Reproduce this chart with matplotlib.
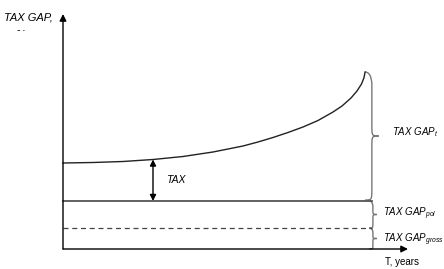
import numpy as np
import matplotlib
matplotlib.use("Agg")
import matplotlib.pyplot as plt
from matplotlib.path import Path
from matplotlib.patches import PathPatch
from matplotlib.transforms import Bbox, TransformedBbox

plt.rcParams['font.family'] = ['Liberation Sans', 'DejaVu Sans']
plt.rcParams['mathtext.fontset'] = 'custom'
plt.rcParams['mathtext.it'] = 'Liberation Sans:italic'
plt.rcParams['mathtext.rm'] = 'Liberation Sans'

# curve of total tax gap over time (years, %)
curve_t = [0, 1, 2, 3, 4, 5, 6, 6.5, 7, 7.5, 8, 8.5, 9, 9.3, 9.6, 9.8, 9.95, 10.03, 10.07]
curve_y = [8.6, 8.65, 8.75, 8.95, 9.25, 9.7, 10.3, 10.7, 11.15, 11.65, 12.2, 12.85, 13.7,
           14.3, 15.1, 15.8, 16.5, 17.1, 17.7]
gap_pol = 4.8      # level of policy gap line
gap_gross = 2.1    # level of gross gap line (dashed)
t_end = 10.3
tax_t = 3.0

labels = [r"$\mathit{TAX\ GAP}_{\mathit{t}}$",
          r"$\mathit{TAX\ GAP}_{\mathit{pol}}$",
          r"$\mathit{TAX\ GAP}_{\mathit{gross}}$"]


def brace(ax, x0, y0, y1, w, r):
    ym = (y0 + y1) / 2
    xs = x0 + w / 2
    verts = [(x0, y1), (xs, y1), (xs, y1 - r), (xs, y1 - r),
             (xs, ym + r),
             (xs, ym), (xs, ym), (x0 + w, ym),
             (xs, ym), (xs, ym), (xs, ym - r),
             (xs, y0 + r),
             (xs, y0), (xs, y0), (x0, y0)]
    codes = [Path.MOVETO, Path.CURVE4, Path.CURVE4, Path.CURVE4,
             Path.LINETO,
             Path.CURVE4, Path.CURVE4, Path.CURVE4,
             Path.CURVE4, Path.CURVE4, Path.CURVE4,
             Path.LINETO,
             Path.CURVE4, Path.CURVE4, Path.CURVE4]
    ax.add_patch(PathPatch(Path(verts, codes), fill=False, ec='#777777', lw=1.0))


fig = plt.figure(figsize=(4.44, 2.69), dpi=100)
ax = fig.add_axes([0, 0, 1, 1])
ax.set_xlim(-63 / 30, (444 - 63) / 30)
ax.set_ylim(-2.0, 24.9)
ax.axis('off')

# axes with arrows
ax.annotate('', xy=(0, 23.5), xytext=(0, 0),
            arrowprops=dict(arrowstyle='-|>', color='black', lw=1.0, mutation_scale=10,
                            shrinkA=0, shrinkB=0))
ax.annotate('', xy=(11.5, 0), xytext=(0, 0),
            arrowprops=dict(arrowstyle='-|>', color='black', lw=1.0, mutation_scale=10,
                            shrinkA=0, shrinkB=0))

ax.plot(curve_t, curve_y, color='#222222', lw=1.0)
ax.plot([0, t_end], [gap_pol, gap_pol], color='#555555', lw=1.3)
ax.plot([0, t_end], [gap_gross, gap_gross], color='#444444', lw=0.9, ls=(0, (4, 3)))

# TAX double arrow
tax_top = np.interp(tax_t, curve_t, curve_y)
ax.annotate('', xy=(tax_t, tax_top), xytext=(tax_t, gap_pol),
            arrowprops=dict(arrowstyle='<|-|>', color='black', lw=1.0, mutation_scale=9,
                            shrinkA=0, shrinkB=0))
ax.text(tax_t + 0.45, (tax_top + gap_pol) / 2, 'TAX', style='italic', fontsize=7.5,
        va='center', ha='left')

brace(ax, curve_t[-1], gap_pol + 0.1, curve_y[-1], 0.45, 1.2)
brace(ax, 10.2, gap_gross, gap_pol, 0.26, 0.5)
brace(ax, 10.2, 0, gap_gross, 0.26, 0.4)

ax.text(10.97, 11.7, labels[0], fontsize=7, va='center', ha='left')
ax.text(10.67, 3.5, labels[1], fontsize=7, va='center', ha='left')
ax.text(10.67, 0.9, labels[2], fontsize=7, va='center', ha='left')
ax.text(10.73, -1.3, 'T, years', fontsize=7, va='center', ha='left')

ax.text(-1.95, 23.1, 'TAX GAP,', style='italic', fontsize=8, va='center', ha='left')
pct = ax.text(-1.6, 21.4, '%', style='italic', fontsize=8, va='center', ha='left')
pct.set_clip_box(TransformedBbox(Bbox([[-2.1, 21.8], [0.0, 22.5]]), ax.transData))
pct.set_clip_on(True)

fig.savefig('out.png', dpi=100)
